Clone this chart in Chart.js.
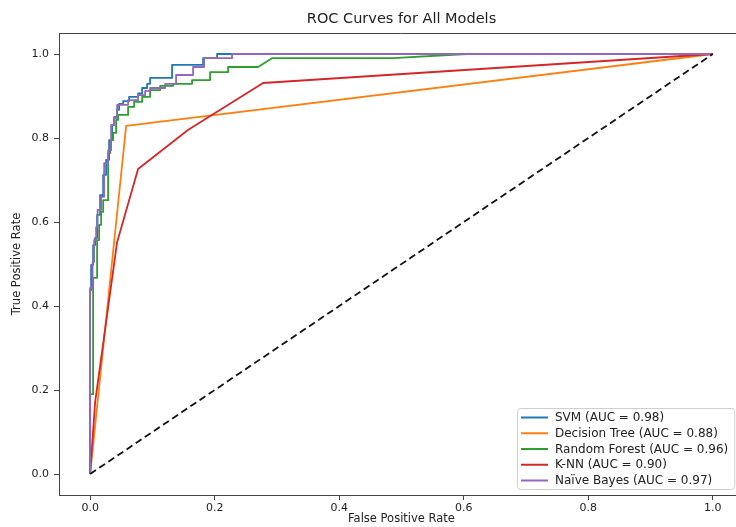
<!DOCTYPE html>
<html><head><meta charset="utf-8">
<script src="https://cdn.jsdelivr.net/npm/chart.js@4.4.0/dist/chart.umd.min.js"></script>
<style>html,body{margin:0;padding:0;background:#fff;overflow:hidden;width:736px;height:527px}canvas{display:block}</style>
</head><body><canvas id="c" width="760" height="527" style="width:760px;height:527px"></canvas>
<script>
const titleText = 'ROC Curves for All Models';
const xLabel = 'False Positive Rate';
const yLabel = 'True Positive Rate';
const modelNames = ['SVM', 'Decision Tree', 'Random Forest', 'K-NN', 'Naïve Bayes'];
const aucValues = [0.98, 0.88, 0.96, 0.90, 0.97];
const modelColors = ['#1f77b4', '#ff7f0e', '#2ca02c', '#d62728', '#9467bd'];

const svmFpr = [0,0,0.0016,0.0016,0.0048,0.0048,0.008,0.008,0.0112,0.0112,0.016,0.016,0.0209,0.0209,0.0257,0.0257,0.0305,0.0305,0.0353,0.0353,0.0385,0.0385,0.0433,0.0433,0.0465,0.0465,0.053,0.053,0.0626,0.0626,0.077,0.077,0.0835,0.0835,0.0915,0.0915,0.0963,0.0963,0.1316,0.1316,0.1814,0.1814,0.2039,0.2039,1];
const svmTpr = [0,0.438,0.438,0.498,0.498,0.545,0.545,0.562,0.562,0.617,0.617,0.664,0.664,0.712,0.712,0.748,0.748,0.795,0.795,0.831,0.831,0.848,0.848,0.867,0.867,0.881,0.881,0.888,0.888,0.898,0.898,0.906,0.906,0.919,0.919,0.929,0.929,0.943,0.943,0.974,0.974,0.990,0.990,1,1];

const dtFpr = [0, 0.0578, 1];
const dtTpr = [0, 0.829, 1];

const rfFpr = [0,0,0.0048,0.0048,0.0112,0.0112,0.0144,0.0144,0.0177,0.0177,0.0209,0.0209,0.0289,0.0289,0.0321,0.0321,0.0369,0.0369,0.0417,0.0417,0.0449,0.0449,0.061,0.061,0.0706,0.0706,0.0835,0.0835,0.0963,0.0963,0.1124,0.1124,0.1332,0.1332,0.1637,0.1637,0.1926,0.1926,0.2215,0.2215,0.2697,0.2921,0.4864,0.6051,1];
const rfTpr = [0,0.19,0.19,0.467,0.467,0.557,0.557,0.593,0.593,0.624,0.624,0.652,0.652,0.764,0.764,0.795,0.795,0.812,0.812,0.843,0.843,0.855,0.855,0.874,0.874,0.886,0.886,0.898,0.898,0.914,0.914,0.924,0.924,0.929,0.929,0.938,0.938,0.957,0.957,0.969,0.969,0.990,0.990,1,1];

const knnFpr = [0, 0.008, 0.0433, 0.077, 0.157, 0.2777, 1];
const knnTpr = [0, 0.171, 0.552, 0.726, 0.819, 0.931, 1];

const nbFpr = [0,0,0.004,0.004,0.0064,0.0064,0.0096,0.0096,0.012,0.012,0.0177,0.0177,0.0225,0.0225,0.0289,0.0289,0.0337,0.0337,0.0385,0.0385,0.0433,0.0433,0.061,0.061,0.077,0.077,0.0883,0.0883,0.0963,0.0963,0.1204,0.1204,0.138,0.138,0.1653,0.1653,0.183,0.183,0.2279,0.2279,1];
const nbTpr = [0,0.443,0.443,0.505,0.505,0.557,0.557,0.588,0.588,0.629,0.629,0.660,0.660,0.740,0.740,0.771,0.771,0.831,0.831,0.850,0.850,0.879,0.879,0.890,0.890,0.902,0.902,0.912,0.912,0.919,0.919,0.929,0.929,0.950,0.950,0.969,0.969,0.990,0.990,1,1];

const chanceFpr = [0, 1];
const chanceTpr = [0, 1];

const xTicks = [0, 0.2, 0.4, 0.6, 0.8, 1.0];
const yTicks = [0, 0.2, 0.4, 0.6, 0.8, 1.0];

const fprs = [svmFpr, dtFpr, rfFpr, knnFpr, nbFpr];
const tprs = [svmTpr, dtTpr, rfTpr, knnTpr, nbTpr];
const toPts = (xs, ys) => xs.map((x, i) => ({x: x, y: ys[i]}));

const datasets = modelNames.map((n, i) => ({
  label: n + ' (AUC = ' + aucValues[i].toFixed(2) + ')',
  data: toPts(fprs[i], tprs[i]),
  borderColor: modelColors[i],
  backgroundColor: modelColors[i],
  borderWidth: 1.8,
  showLine: true, pointRadius: 0, tension: 0, fill: false,
  borderJoinStyle: 'round',
  order: 10 - i
}));
datasets.push({
  label: 'chance',
  data: toPts(chanceFpr, chanceTpr),
  borderColor: '#111', borderWidth: 1.8, borderDash: [7, 4],
  showLine: true, pointRadius: 0, fill: false, order: 1
});

const FONT = '"DejaVu Sans", sans-serif';
const decorations = {
  id: 'decorations',
  afterDraw(chart) {
    const ctx = chart.ctx, a = chart.chartArea;
    ctx.save();
    ctx.strokeStyle = '#444'; ctx.lineWidth = 1;
    ctx.beginPath();
    ctx.moveTo(a.left, a.top + 0.5); ctx.lineTo(a.right, a.top + 0.5);
    ctx.stroke();
    ctx.fillStyle = '#222'; ctx.textAlign = 'center'; ctx.textBaseline = 'middle';
    ctx.font = '14.5px ' + FONT;
    ctx.fillText(titleText, (a.left + a.right) / 2, 19);
    ctx.font = '11.5px ' + FONT;
    ctx.fillText(xLabel, (a.left + a.right) / 2, 519);
    ctx.save();
    ctx.translate(17, (a.top + a.bottom) / 2); ctx.rotate(-Math.PI / 2);
    ctx.fillText(yLabel, 0, 0);
    ctx.restore();
    // legend
    ctx.font = '12px ' + FONT;
    const labels = datasets.slice(0, 5).map(d => d.label);
    const tw = Math.max(...labels.map(l => ctx.measureText(l).width));
    const bx = 517, by = 408, bw = 4 + 27 + 8 + tw + 5, bh = 81;
    ctx.fillStyle = 'rgba(255,255,255,0.85)'; ctx.strokeStyle = '#d0d0d0'; ctx.lineWidth = 1;
    ctx.beginPath();
    if (ctx.roundRect) ctx.roundRect(bx + 0.5, by + 0.5, bw, bh, 3); else ctx.rect(bx + 0.5, by + 0.5, bw, bh);
    ctx.fill(); ctx.stroke();
    ctx.textAlign = 'left';
    labels.forEach((l, i) => {
      const yy = by + 9.5 + i * 15.75;
      ctx.strokeStyle = modelColors[i]; ctx.lineWidth = 2;
      ctx.beginPath(); ctx.moveTo(bx + 4, yy); ctx.lineTo(bx + 31, yy); ctx.stroke();
      ctx.fillStyle = '#222';
      ctx.fillText(l, bx + 38, yy + 0.5);
    });
    ctx.restore();
  }
};

const axisCommon = (ticksArr, pad) => ({
  type: 'linear', min: -0.05, max: 1.05,
  afterBuildTicks: s => { s.ticks = ticksArr.map(v => ({value: v})); },
  ticks: { callback: v => Number(v).toFixed(1), font: {family: FONT, size: 11}, color: '#222', padding: pad, maxRotation: 0, autoSkip: false },
  grid: { display: true, drawOnChartArea: false, drawTicks: true, tickLength: 5, color: '#444', tickWidth: 1 },
  border: { display: true, color: '#444', width: 1 }
});

const xAxis = axisCommon(xTicks, 2);
xAxis.afterFit = s => { s.height = 32; };
const yAxis = axisCommon(yTicks, 5);
yAxis.afterFit = s => { s.width = 59; };

new Chart(document.getElementById('c'), {
  type: 'scatter',
  data: { datasets: datasets },
  options: {
    responsive: false, animation: false, devicePixelRatio: 1,
    layout: { padding: { top: 33, right: 16, left: 0, bottom: 0 } },
    plugins: { legend: { display: false }, title: { display: false }, tooltip: { enabled: false } },
    scales: { x: xAxis, y: yAxis }
  },
  plugins: [decorations]
});
</script></body></html>
